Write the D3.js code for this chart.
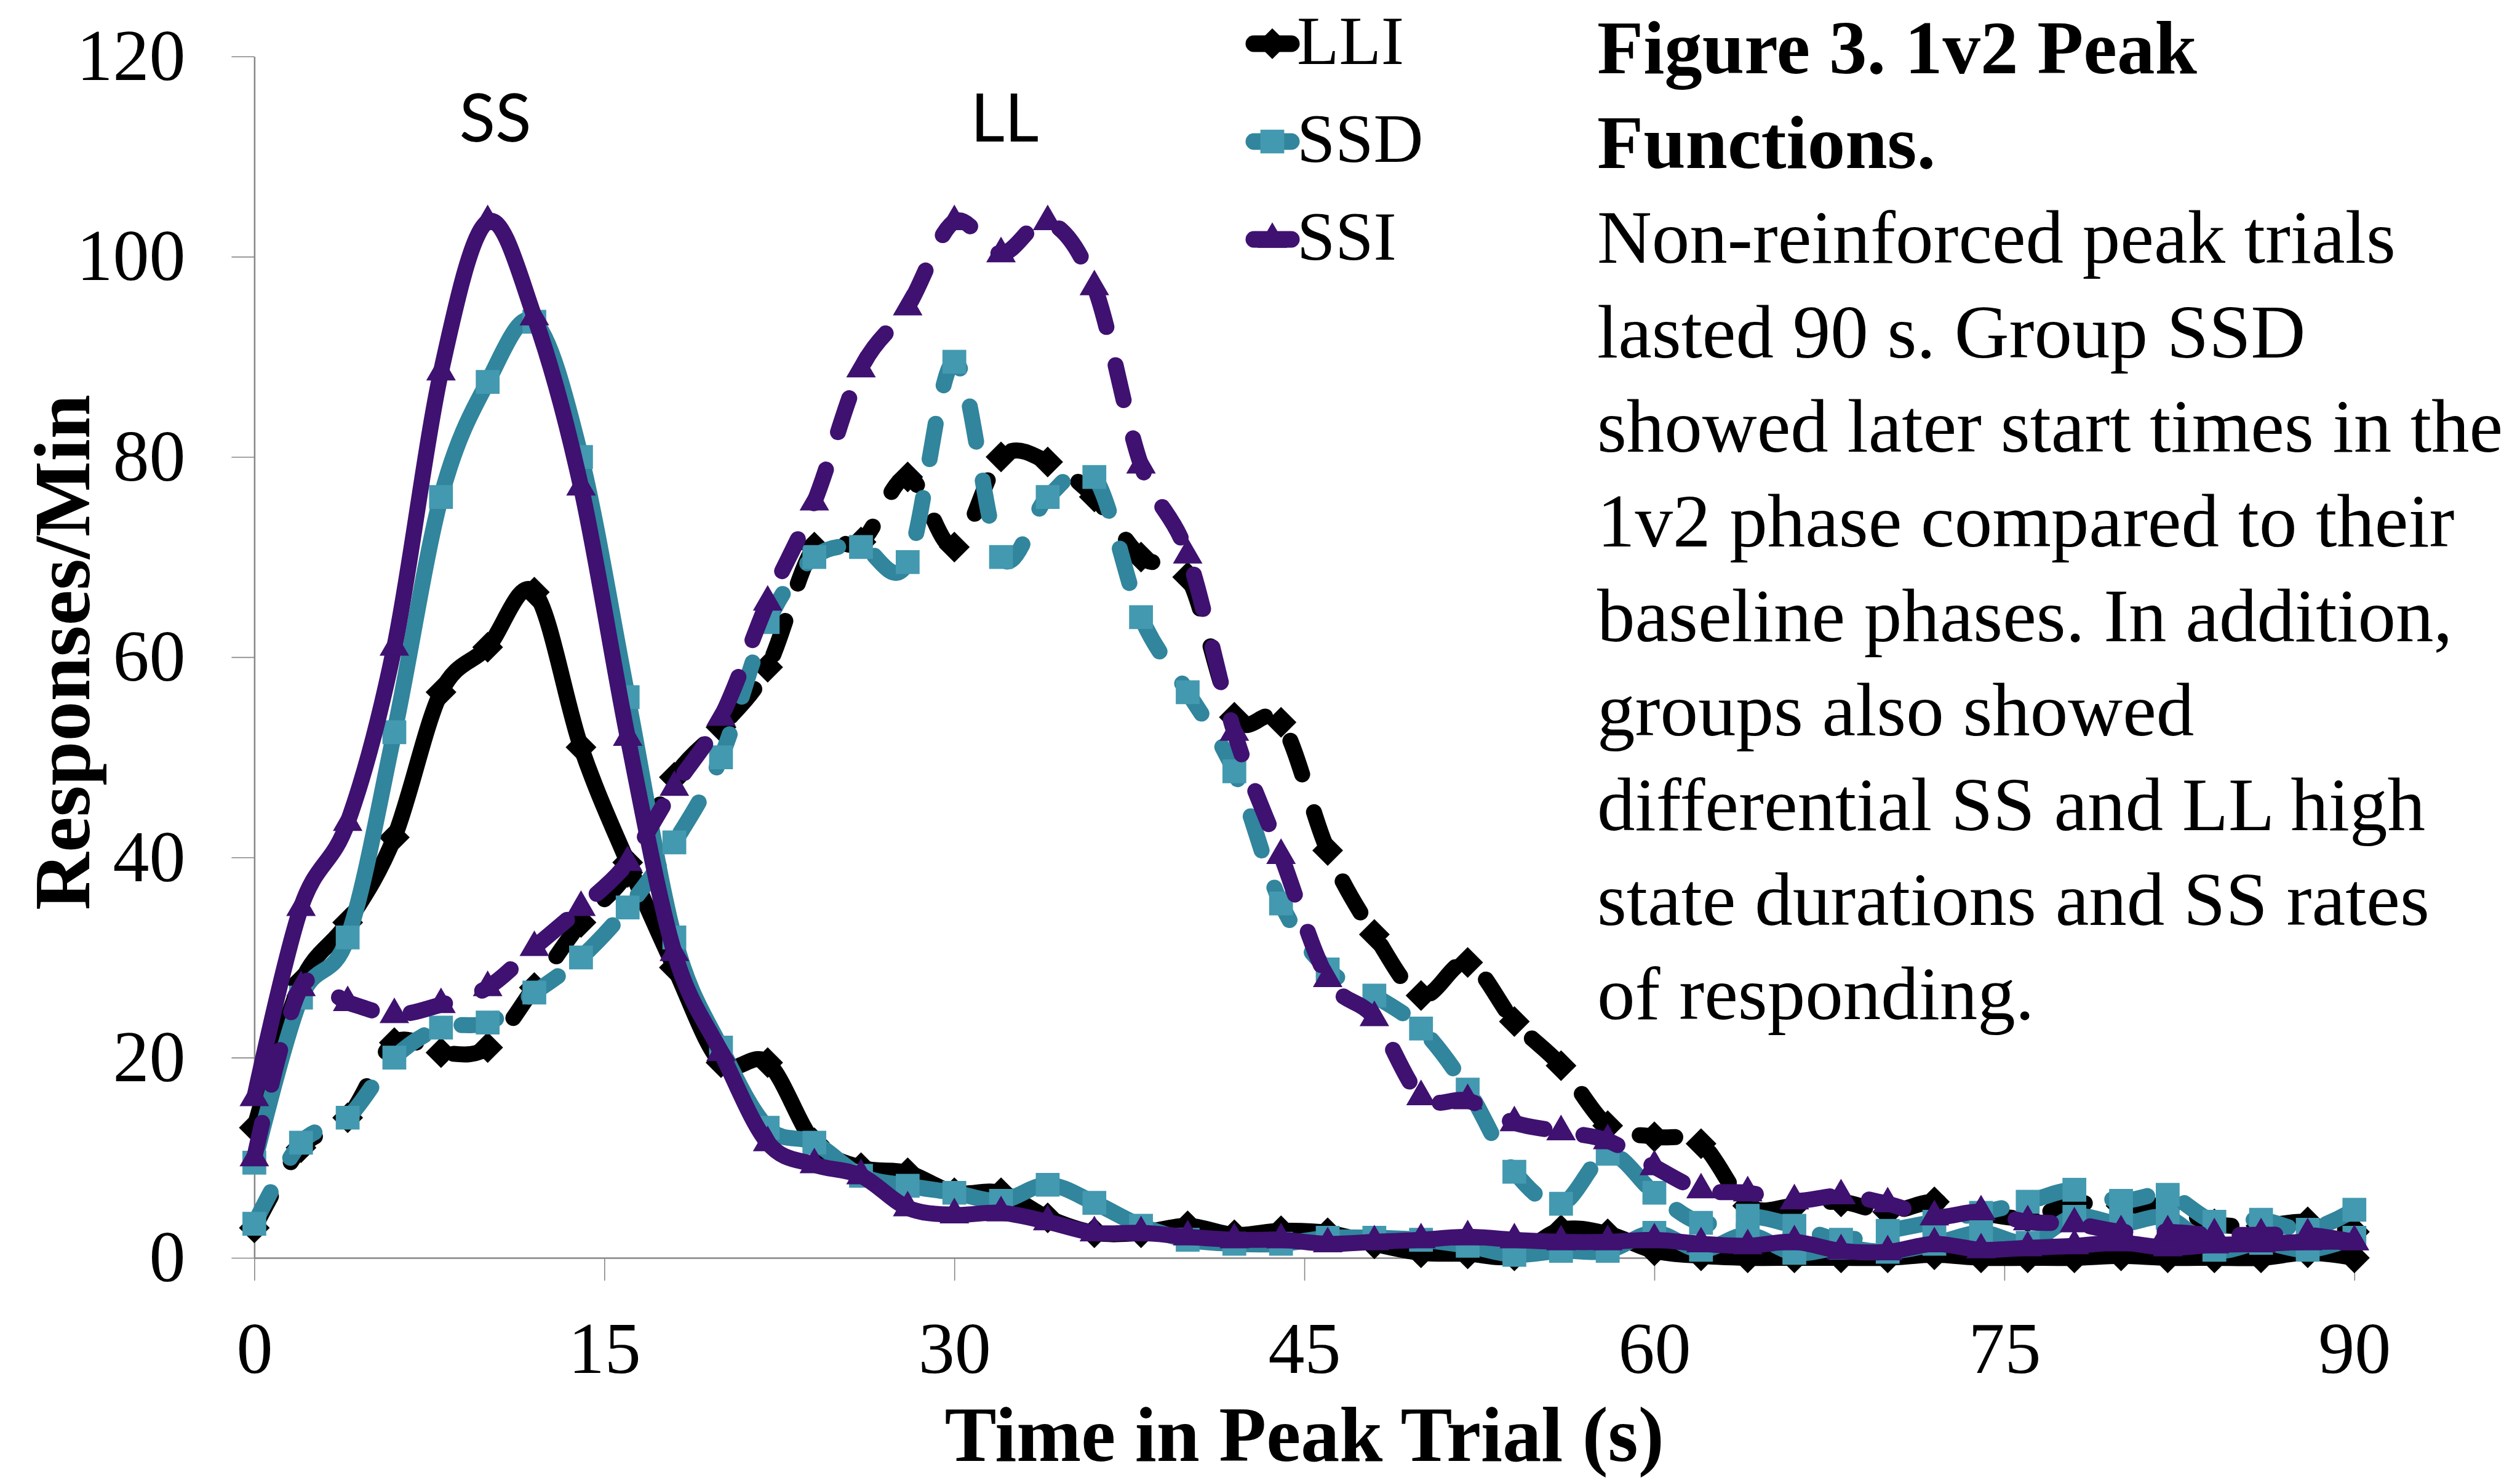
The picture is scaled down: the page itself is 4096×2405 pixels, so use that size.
<!DOCTYPE html>
<html lang="en">
<head>
    <meta charset="UTF-8">
    <title>Figure 3. 1v2 Peak Functions</title>
    <style>
        body { margin: 0; background: #fff; }
        svg { display: block; }
        .axis path, .axis line { stroke: #868686; }
        .axis text { font-family: "Liberation Serif", serif; fill: #000; }
    </style>
</head>
<body>
    <div id="chart"></div>

    <script src="https://d3js.org/d3.v7.min.js"></script>
    <script>
        // time in peak trial (s), one point every 2 s
        const times = [0, 2, 4, 6, 8, 10, 12, 14, 16, 18, 20, 22, 24, 26, 28, 30, 32, 34, 36, 38, 40, 42, 44,
            46, 48, 50, 52, 54, 56, 58, 60, 62, 64, 66, 68, 70, 72, 74, 76, 78, 80, 82, 84, 86, 88, 90];

        // responses / min
        const lliSolid = [13, 27.5, 33.5, 42, 56.5, 61, 66.5, 51, 39.5, 29,
            19.5, 19.5, 11.5, 9, 8.5, 6.5, 6.5, 4, 2.5, 2.5,
            3.2, 2.3, 2.7, 2.5, 1.4, 0.5, 0.4, 0.2, 2.8, 2.4,
            0.7, 0.2, 0, 0, 0, 0, 0.3, 0, 0, 0,
            0.2, 0, 0, 0, 0.5, 0];
        const ssdSolid = [9.5, 26, 32, 52.5, 76, 87.5, 93.5, 80, 56, 32,
            21, 13, 11.5, 8.2, 7.2, 6.5, 5.7, 7.3, 5.5, 3.2,
            1.8, 1.4, 1.4, 2, 2, 1.8, 1.2, 0.3, 0.7, 0.7,
            2.5, 0.8, 2.3, 0.5, 1.0, 0.6, 1.4, 2.5, 1.5, 4.1,
            3.4, 4.0, 0.8, 1.5, 0.8, 2.0];
        const ssiSolid = [16, 35, 43.5, 61, 88.5, 103.5, 94, 77, 52, 30.5,
            20.5, 11.5, 9.3, 8.2, 5, 4.3, 4.5, 3.6, 2.5, 2.5,
            2.1, 1.8, 1.8, 1.4, 1.6, 1.8, 2.1, 1.8, 1.6, 1.6,
            1.8, 1.4, 1.2, 1.6, 0.7, 0.6, 1.4, 0.8, 1.0, 1.2,
            1.5, 1.0, 1.3, 1.4, 1.6, 1.6];
        const lliDashed = [3, 11, 14, 21.5, 20.5, 21, 27, 33.5, 38.5, 48,
            53, 59, 71, 71.5, 78, 71, 80, 79.5, 76, 70,
            68, 54, 53.5, 40.7, 32.3, 26.2, 29.5, 23.6, 19.2, 13.2,
            12.1, 11.4, 5.2, 5.2, 5.6, 4.6, 5.6, 4.5, 4, 5.4,
            5.2, 5.1, 3.4, 3.2, 3.6, 2.6];
        const ssdDashed = [3.4, 11.5, 14, 20, 23, 23.5, 26.5, 30, 35, 41.5,
            50, 63.5, 70, 71, 69.5, 89.5, 70, 76, 78, 64,
            56.5, 48.6, 35.4, 28.8, 26.2, 22.9, 16.8, 8.6, 5.4, 10.4,
            6.5, 3.5, 4.2, 3.2, 1.8, 2.7, 3.6, 4.5, 5.6, 6.8,
            5.7, 6.3, 3.6, 3.8, 2.8, 4.8];
        const ssiDashed = [10, 27, 25.5, 24.3, 25.3, 27, 31, 35, 39.5, 47,
            54, 65.5, 75.5, 88.8, 95, 103.5, 100.3, 103.5, 97, 79.2,
            70.2, 52.5, 40.2, 27.9, 24, 16.1, 15.7, 13.5, 12.6, 11.7,
            9.1, 6.8, 6.5, 5.7, 6.2, 5.4, 4.1, 4.6, 3.6, 3.4,
            2.6, 2.6, 2.3, 2.3, 2.3, 1.6];

        const groups = ["LLI", "SSD", "SSI"];
        const xTicks = [0, 15, 30, 45, 60, 75, 90];
        const yTicks = [0, 20, 40, 60, 80, 100, 120];
        const caption = [
            "Figure 3. 1v2 Peak",
            "Functions.",
            "Non-reinforced peak trials",
            "lasted 90 s. Group SSD",
            "showed later start times in the",
            "1v2 phase compared to their",
            "baseline phases. In addition,",
            "groups also showed",
            "differential SS and LL high",
            "state durations and SS rates",
            "of responding."
        ];

        const width = 4096;
        const height = 2405;
        const lineW = 26;

        const style = {
            LLI: { line: "#000000", marker: "#000000", shape: "diamond" },
            SSD: { line: "#31859C", marker: "#4399AF", shape: "square" },
            SSI: { line: "#3F1170", marker: "#3F1170", shape: "triangle" }
        };

        const series = [
            { group: "LLI", dashed: false, values: lliSolid },
            { group: "LLI", dashed: true, values: lliDashed },
            { group: "SSD", dashed: false, values: ssdSolid },
            { group: "SSD", dashed: true, values: ssdDashed },
            { group: "SSI", dashed: false, values: ssiSolid },
            { group: "SSI", dashed: true, values: ssiDashed }
        ];

        const svg = d3.select("#chart").append("svg")
            .attr("width", width)
            .attr("height", height);

        const x = d3.scaleLinear().domain([0, 90]).range([413.4, 3826.8]);
        const y = d3.scaleLinear().domain([0, 120]).range([2044, 91.8]);

        function markerPath(shape) {
            if (shape === "diamond") return d3.symbol().type(d3.symbolSquare).size(1250)();
            if (shape === "square") return d3.symbol().type(d3.symbolSquare).size(1500)();
            return d3.symbol().type(d3.symbolTriangle).size(1000)();
        }

        // axes
        const yAxis = svg.append("g")
            .attr("class", "axis")
            .attr("transform", `translate(${x(0)},0)`)
            .call(d3.axisLeft(y).tickValues(yTicks).tickSize(37).tickSizeOuter(0).tickPadding(75));
        yAxis.select(".domain").attr("stroke-width", 2.5);
        yAxis.selectAll(".tick line").attr("stroke-width", 1.6);
        yAxis.selectAll(".tick text").attr("font-size", 118);

        const xAxis = svg.append("g")
            .attr("class", "axis")
            .attr("transform", `translate(0,${y(0)})`)
            .call(d3.axisBottom(x).tickValues(xTicks).tickSize(37).tickSizeOuter(0).tickPadding(66));
        xAxis.select(".domain").attr("stroke-width", 2.5);
        xAxis.selectAll(".tick line").attr("stroke-width", 1.6);
        xAxis.selectAll(".tick text").attr("font-size", 118);

        // axis titles
        svg.append("text")
            .attr("x", (x(0) + x(90)) / 2)
            .attr("y", 2374)
            .attr("text-anchor", "middle")
            .attr("font-family", "Liberation Serif, serif")
            .attr("font-weight", "bold")
            .attr("font-size", 126)
            .text("Time in Peak Trial (s)");

        svg.append("text")
            .attr("transform", "translate(145,1060) rotate(-90)")
            .attr("text-anchor", "middle")
            .attr("font-family", "Liberation Serif, serif")
            .attr("font-weight", "bold")
            .attr("font-size", 130)
            .text("Responses/Min");

        // lines + markers
        const line = d3.line()
            .x((d, i) => x(times[i]))
            .y(d => y(d))
            .curve(d3.curveCatmullRom.alpha(0));

        series.forEach(s => {
            const st = style[s.group];
            const g = svg.append("g").attr("class", "series");
            g.append("path")
                .datum(s.values)
                .attr("fill", "none")
                .attr("stroke", st.line)
                .attr("stroke-width", lineW)
                .attr("stroke-linecap", "round")
                .attr("stroke-linejoin", "round")
                .attr("stroke-dasharray", s.dashed ? "58 64" : null)
                .attr("d", line);

            g.selectAll("path.marker")
                .data(s.values)
                .enter()
                .append("path")
                .attr("class", "marker")
                .attr("d", markerPath(st.shape))
                .attr("fill", st.marker)
                .attr("transform", (d, i) => `translate(${x(times[i])},${y(d)})` +
                    (st.shape === "diamond" ? " rotate(45)" : ""));
        });

        // legend
        const legend = svg.append("g").attr("class", "legend");
        const legendRows = [71, 230, 389];
        groups.forEach((name, i) => {
            const st = style[name];
            const row = legend.append("g").attr("transform", `translate(0,${legendRows[i]})`);
            row.append("line")
                .attr("x1", 2038).attr("x2", 2099)
                .attr("stroke", st.line)
                .attr("stroke-width", 27)
                .attr("stroke-linecap", "round");
            row.append("path")
                .attr("d", markerPath(st.shape))
                .attr("fill", st.marker)
                .attr("transform", "translate(2068,0)" + (st.shape === "diamond" ? " rotate(45)" : ""));
            row.append("text")
                .attr("x", 2108)
                .attr("y", 33)
                .attr("font-family", "Liberation Serif, serif")
                .attr("font-size", 112)
                .text(name);
        });

        // SS / LL labels
        svg.append("text")
            .attr("x", 805).attr("y", 230)
            .attr("text-anchor", "middle")
            .attr("font-family", "Lato, sans-serif")
            .attr("font-size", 108)
            .text("SS");
        svg.append("text")
            .attr("x", 1633).attr("y", 230)
            .attr("text-anchor", "middle")
            .attr("font-family", "Lato, sans-serif")
            .attr("font-size", 108)
            .text("LL");

        // caption text block
        svg.append("g").selectAll("text")
            .data(caption)
            .enter()
            .append("text")
            .attr("x", 2596)
            .attr("y", (d, i) => 119.4 + i * 153.7)
            .attr("font-family", "Liberation Serif, serif")
            .attr("font-size", 123)
            .attr("font-weight", (d, i) => i < 2 ? "bold" : "normal")
            .text(d => d);
    </script>
</body>
</html>
